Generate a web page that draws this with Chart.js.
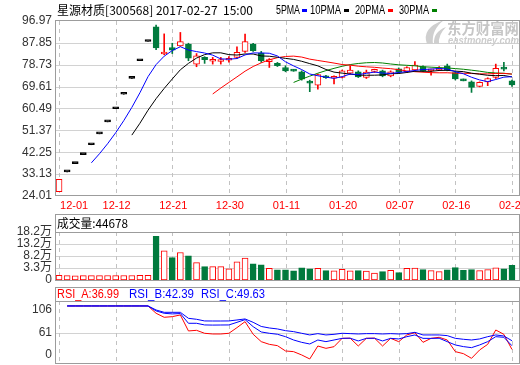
<!DOCTYPE html>
<html>
<head>
<meta charset="utf-8">
<title>星源材质 日K</title>
<script src="https://cdn.jsdelivr.net/npm/chart.js@4.4.1/dist/chart.umd.min.js"></script>
<style>
  html, body { margin: 0; padding: 0; background: #fff; }
  #box { position: relative; width: 520px; height: 365px; overflow: hidden; background: #fff; }
  #box canvas { position: absolute; left: 0; }
</style>
</head>
<body>
<div id="box">
  <canvas id="kChart" width="520" height="215" style="top:0;width:520px;height:215px"></canvas>
  <canvas id="volChart" width="520" height="80" style="top:210px;width:520px;height:80px"></canvas>
  <canvas id="rsiChart" width="520" height="80" style="top:285px;width:520px;height:80px"></canvas>
</div>
<script>
// trading days shown (Dec 2016 - Feb 2017)
const dates = ['12-01','12-02','12-05','12-06','12-07','12-08','12-09','12-12','12-13','12-14','12-15','12-16',
  '12-19','12-20','12-21','12-22','12-23','12-26','12-27','12-28','12-29','12-30','01-03','01-04','01-05','01-06',
  '01-09','01-10','01-11','01-12','01-13','01-16','01-17','01-18','01-19','01-20','01-23','01-24','01-25','01-26',
  '02-03','02-06','02-07','02-08','02-09','02-10','02-13','02-14','02-15','02-16','02-17','02-20','02-21','02-22',
  '02-23','02-24','02-27'];
const dateTickIdx = [0, 7, 14, 21, 28, 35, 42, 49, 56];

const openP = [25.82,34.09,37.50,41.25,45.38,49.92,54.91,60.40,66.44,73.08,80.39,88.43,
  94.50,83.20,85.90,86.60,87.30,79.00,81.80,80.20,80.10,80.60,81.80,84.30,87.30,83.60,
  80.00,79.30,77.60,76.60,75.80,71.60,70.20,74.10,73.10,73.40,75.20,75.80,73.40,76.00,76.20,74.10,
  77.00,75.80,76.60,78.00,76.20,76.60,78.30,75.50,72.30,71.60,69.70,71.60,73.40,77.60,72.00];
const highP = [30.99,34.09,37.50,41.25,45.38,49.92,54.91,60.40,66.44,73.08,80.39,88.43,
  95.30,91.60,87.70,92.20,87.70,83.40,82.10,81.80,81.80,82.10,86.20,91.50,87.70,84.30,
  81.30,79.70,78.30,76.80,76.20,72.30,74.80,74.30,74.10,76.50,78.30,76.20,76.50,76.90,76.50,76.20,
  77.40,77.90,80.10,78.30,76.90,78.00,79.00,75.80,72.80,72.00,71.60,73.30,79.00,79.70,72.30];
const lowP = [25.82,34.09,37.50,41.25,45.38,49.92,54.91,60.40,66.44,73.08,80.39,88.43,
  85.00,82.90,83.40,86.40,80.40,77.90,79.30,79.00,79.00,79.80,81.40,83.90,84.30,79.70,
  77.60,78.00,75.80,76.00,72.30,67.50,68.60,73.00,70.70,73.20,74.80,73.40,73.00,75.50,73.70,73.70,
  75.20,75.50,76.30,75.90,74.40,76.30,76.20,72.40,72.00,67.20,69.50,70.00,73.00,76.20,69.70];
const closeP = [30.99,34.09,37.50,41.25,45.38,49.92,54.91,60.40,66.44,73.08,80.39,88.43,
  85.70,83.90,84.80,88.40,81.50,82.50,80.90,80.40,80.50,80.90,83.90,88.40,84.60,80.40,
  80.30,78.30,76.20,76.10,72.70,71.10,74.60,73.30,73.60,76.20,76.50,73.70,75.70,76.30,74.10,75.80,
  75.60,77.60,78.60,76.20,76.50,77.00,76.50,72.80,72.00,69.30,71.40,73.00,77.20,76.90,70.30];

// volume in lots (手)
const volume = [2910,1850,1260,1530,1780,1420,2050,1690,1980,2230,2410,2760,
  163700,104200,76300,97100,83400,55500,38600,39100,38900,29300,58400,73800,50100,45900,
  32200,25100,25300,21000,33400,29300,32200,22200,21000,28000,21200,22200,20800,12600,18000,23900,
  13900,32200,32400,26400,22200,18000,25100,34700,23900,26400,22200,26600,33400,29300,44678];

const rsiA = [null,100,100,100,100,100,100,100,100,100,100,100,
  89.4,83.6,84.5,87.0,63.8,64.7,60.4,59.4,59.4,60.4,68.6,77.3,59.0,48.3,
  44.4,42.5,34.8,33.8,29.0,23.2,42.0,38.6,41.0,53.1,53.3,42.0,53.1,53.4,42.0,53.1,
  48.3,58.0,61.3,47.3,53.1,54.6,50.7,33.8,30.9,24.1,36.2,44.4,65.2,58.9,36.99];
const rsiB = [null,100,100,100,100,100,100,100,100,100,100,100,
  92.8,89.4,88.5,89.0,74.9,74.9,72.5,72.3,72.4,72.5,76.3,80.2,70.0,62.3,
  60.4,59.0,55.5,50.7,47.3,44.9,50.7,48.3,50.7,53.1,53.3,49.3,53.1,53.2,49.3,53.1,
  52.2,55.5,58.0,53.1,53.0,53.2,48.3,43.5,41.1,39.6,43.5,48.3,55.5,54.6,42.39];
const rsiC = [null,100,100,100,100,100,100,100,100,100,100,100,
  94.2,90.8,90.8,90.8,82.1,80.7,78.3,78.2,78.2,78.3,79.7,81.2,76.3,70.3,
  68.1,66.7,64.2,62.8,60.4,58.0,59.9,58.0,58.9,60.4,59.9,59.4,59.9,59.9,59.4,59.9,
  59.4,59.9,61.8,58.0,58.0,58.0,57.0,53.1,51.7,50.7,52.2,55.5,58.0,56.5,49.63];

const priceTicks = [24.01, 33.13, 42.25, 51.37, 60.49, 69.61, 78.73, 87.85, 96.97];
const volTicks = [-16500, 33125, 82750, 132375, 182000];
const volTickText = ['0', '3.3万', '8.2万', '13.2万', '18.2万'];
const rsiRange = [15.9, 107.2];
const rsiTicks = [29, 61, 95];
const rsiTickText = ['0', '61', '106'];
const maPeriods = [5, 10, 20, 30];

const UP = '#ff0000', DOWN = '#007a3d', FLAT = '#000000';
const GRID = '#d2d2d2', DASH = '#c2c2c2', FRAME = '#9c9c9c';
const RIGHT = 519.5;
const maColors = ['#0000ff', '#000000', '#ff0000', '#008000'];

Chart.defaults.font.family = "'Liberation Sans', 'Noto Sans CJK SC', sans-serif";
Chart.defaults.font.size = 12;
Chart.defaults.color = '#333';
Chart.defaults.animation = false;
Chart.defaults.plugins.legend.display = false;
Chart.defaults.plugins.tooltip.enabled = false;

function movingAverage(n) {
  return closeP.map((c, i) => {
    if (i < n - 1) return null;
    let s = 0;
    for (let k = i - n + 1; k <= i; k++) s += closeP[k];
    return s / n;
  });
}

const candleColor = closeP.map((c, i) => c > openP[i] ? UP : (c < openP[i] ? DOWN : FLAT));
const bodyFill = candleColor.map(c => c === UP ? '#ffffff' : c);
const volColor = closeP.map((c, i) => {
  if (c > openP[i]) return UP;
  if (c < openP[i]) return DOWN;
  return (i > 0 && c < closeP[i - 1]) ? DOWN : UP;
});
const volFill = volColor.map(c => c === UP ? '#ffffff' : c);

function fitText(ctx, text, x, y, w, font, color) {
  ctx.save();
  ctx.font = font;
  ctx.fillStyle = color;
  ctx.textBaseline = 'middle';
  ctx.textAlign = 'left';
  const mw = ctx.measureText(text).width;
  ctx.translate(x, y);
  ctx.scale(w / mw, 1);
  ctx.fillText(text, 0, 0);
  ctx.restore();
}

function hline(ctx, x1, x2, y) {
  ctx.beginPath();
  ctx.moveTo(x1, y);
  ctx.lineTo(x2, y);
  ctx.stroke();
}

// horizontal grid + dashed date lines
function drawGrid(chart, values) {
  const { ctx, chartArea: a, scales } = chart;
  ctx.save();
  ctx.lineWidth = 1;
  ctx.strokeStyle = GRID;
  values.forEach(v => hline(ctx, a.left, RIGHT, Math.round(scales.y.getPixelForValue(v)) + 0.5));
  ctx.strokeStyle = DASH;
  ctx.setLineDash([4, 4]);
  dateTickIdx.forEach(i => {
    const px = Math.round(scales.x.getPixelForValue(i)) + 0.5;
    ctx.beginPath();
    ctx.moveTo(px, a.top);
    ctx.lineTo(px, a.bottom);
    ctx.stroke();
  });
  ctx.restore();
}

function drawFrame(ctx, left, top, bottom, seps) {
  ctx.save();
  ctx.strokeStyle = FRAME;
  ctx.lineWidth = 1;
  ctx.strokeRect(left + 0.5, top + 0.5, RIGHT - left - 0.5, bottom - top);
  seps.forEach(y => hline(ctx, left, RIGHT, y + 0.5));
  ctx.restore();
}

function drawWatermark(ctx) {
  ctx.save();
  ctx.fillStyle = '#cfcfcf';
  ctx.beginPath();
  ctx.moveTo(427, 44);
  ctx.quadraticCurveTo(421, 28, 444, 20);
  ctx.quadraticCurveTo(431, 30, 433, 44);
  ctx.closePath();
  ctx.fill();
  ctx.beginPath();
  ctx.moveTo(434, 44);
  ctx.quadraticCurveTo(433, 32, 446, 27);
  ctx.quadraticCurveTo(438, 35, 439, 44);
  ctx.closePath();
  ctx.fill();
  ctx.restore();
  fitText(ctx, '东方财富网', 447, 28, 72, "bold 15px 'Noto Sans CJK SC'", '#c6c6c6');
  fitText(ctx, 'eastmoney.com', 448, 41, 71, "italic bold 10px 'Liberation Sans'", '#cccccc');
}

function yAxis(min, max, ticks, label) {
  return {
    min: min,
    max: max,
    afterFit(s) {
      s.width = 55;
      s.paddingTop = 0;
      s.paddingBottom = 0;
    },
    afterBuildTicks(s) { s.ticks = ticks.map(v => ({ value: v })); },
    grid: { display: false, drawTicks: false },
    border: { display: false },
    ticks: { autoSkip: false, padding: 3, color: '#333', font: { size: 12 }, callback: label }
  };
}
const xAxis = { type: 'category', offset: true, display: false };

// ---------- price panel ----------
const maSets = maPeriods.map((n, k) => ({
  type: 'line',
  label: n + 'PMA',
  data: movingAverage(n),
  borderColor: maColors[k],
  borderWidth: 1,
  pointRadius: 0,
  tension: 0,
  order: k
}));

const kPanel = {
  id: 'kPanel',
  beforeDatasetsDraw(chart) {
    drawGrid(chart, priceTicks.slice(1, -1));
    drawWatermark(chart.ctx);
  },
  afterDraw(chart) {
    const { ctx, chartArea: a, scales: { x } } = chart;
    drawFrame(ctx, a.left, 20, 195, []);
    fitText(ctx, '星源材质[300568] 2017-02-27  15:00', 57, 10, 196, "12px 'Noto Sans CJK SC'", '#000');
    const legendPos = [[276, 24, 302], [310, 31, 344], [355, 30, 388], [399, 30, 432]];
    maPeriods.forEach((n, k) => {
      const [tx, tw, rx] = legendPos[k];
      fitText(ctx, n + 'PMA', tx, 10.5, tw, "12px 'Liberation Sans'", '#000');
      ctx.fillStyle = maColors[k];
      ctx.fillRect(rx, 9, 5, 3);
    });
    ctx.save();
    ctx.font = "11px 'Liberation Sans'";
    ctx.fillStyle = '#ff0000';
    ctx.textBaseline = 'middle';
    dateTickIdx.forEach((idx, k) => {
      const px = x.getPixelForValue(idx);
      ctx.textAlign = k === 0 ? 'left' : 'center';
      ctx.fillText(dates[idx], px + 1, 206);
    });
    ctx.restore();
  }
};

new Chart(document.getElementById('kChart'), {
  type: 'bar',
  data: {
    labels: dates,
    datasets: [
      ...maSets,
      {
        label: 'body',
        data: openP.map((o, i) => [o, closeP[i]]),
        backgroundColor: bodyFill,
        borderColor: candleColor,
        borderWidth: 1,
        borderSkipped: false,
        barThickness: 6,
        minBarLength: 2,
        grouped: false,
        order: 10
      },
      {
        label: 'wick',
        data: lowP.map((l, i) => [l, highP[i]]),
        backgroundColor: candleColor,
        borderWidth: 0,
        barThickness: 1,
        grouped: false,
        order: 11
      }
    ]
  },
  options: {
    responsive: false,
    devicePixelRatio: 1,
    layout: { padding: { top: 21, bottom: 19, left: 0, right: 4 } },
    scales: {
      x: xAxis,
      y: yAxis(priceTicks[0], priceTicks[priceTicks.length - 1], priceTicks, v => v.toFixed(2))
    }
  },
  plugins: [kPanel]
});

// ---------- volume panel ----------
const volPanel = {
  id: 'volPanel',
  beforeDatasetsDraw(chart) { drawGrid(chart, volTicks.slice(1, -1)); },
  afterDraw(chart) {
    const { ctx, chartArea: a } = chart;
    drawFrame(ctx, a.left, 4, 70, [22]);
    fitText(ctx, '成交量:' + volume[volume.length - 1], 57, 13, 71, "12px 'Noto Sans CJK SC'", '#000');
  }
};

new Chart(document.getElementById('volChart'), {
  type: 'bar',
  data: {
    labels: dates,
    datasets: [{
      label: '成交量',
      data: volume.map(v => [volTicks[0], v]),
      backgroundColor: volFill,
      borderColor: volColor,
      borderWidth: 1,
      borderSkipped: false,
      barThickness: 6
    }]
  },
  options: {
    responsive: false,
    devicePixelRatio: 1,
    layout: { padding: { top: 22, bottom: 10, left: 0, right: 4 } },
    scales: {
      x: xAxis,
      y: yAxis(volTicks[0], volTicks[volTicks.length - 1], volTicks, (v, i) => volTickText[i])
    }
  },
  plugins: [volPanel]
});

// ---------- RSI panel ----------
const rsiPanel = {
  id: 'rsiPanel',
  beforeDatasetsDraw(chart) { drawGrid(chart, [61]); },
  afterDraw(chart) {
    const { ctx, chartArea: a } = chart;
    drawFrame(ctx, a.left, 2, 78, [16]);
    const last = dates.length - 1;
    fitText(ctx, 'RSI_A:' + rsiA[last].toFixed(2), 57, 9.5, 62, "12px 'Liberation Sans'", '#ff0000');
    fitText(ctx, 'RSI_B:' + rsiB[last].toFixed(2), 129, 9.5, 65, "12px 'Liberation Sans'", '#0000ff');
    fitText(ctx, 'RSI_C:' + rsiC[last].toFixed(2), 201, 9.5, 64, "12px 'Liberation Sans'", '#0000ff');
  }
};

const rsiLine = (label, data, color, order) => ({
  label: label, data: data, borderColor: color, borderWidth: 1, pointRadius: 0, tension: 0, order: order
});

new Chart(document.getElementById('rsiChart'), {
  type: 'line',
  data: {
    labels: dates,
    datasets: [
      rsiLine('RSI_C', rsiC, '#0000ff', 0),
      rsiLine('RSI_B', rsiB, '#0000ff', 1),
      rsiLine('RSI_A', rsiA, '#ff0000', 2)
    ]
  },
  options: {
    responsive: false,
    devicePixelRatio: 1,
    layout: { padding: { top: 16, bottom: 1, left: 0, right: 4 } },
    scales: {
      x: xAxis,
      y: yAxis(rsiRange[0], rsiRange[1], rsiTicks, (v, i) => rsiTickText[i])
    }
  },
  plugins: [rsiPanel]
});
</script>
</body>
</html>
